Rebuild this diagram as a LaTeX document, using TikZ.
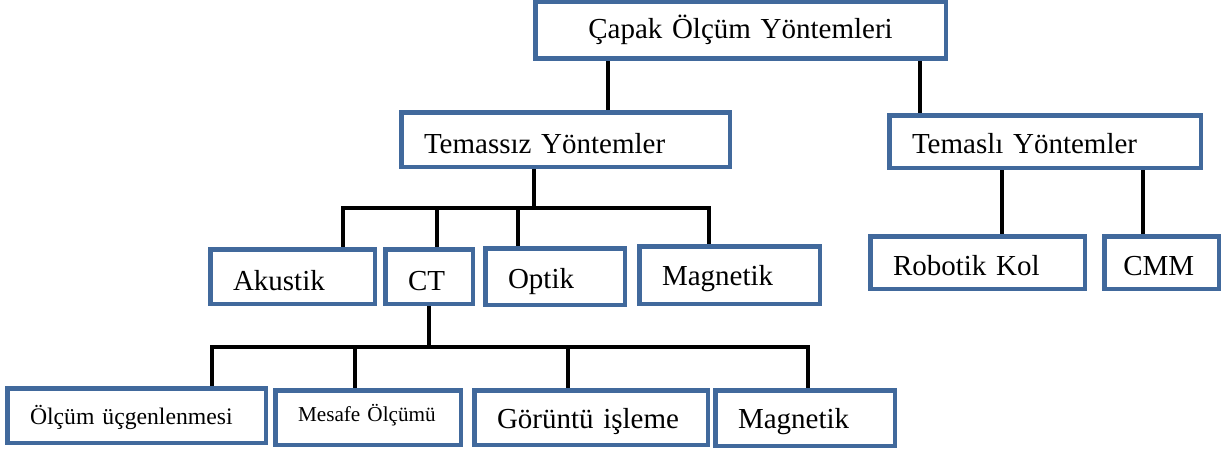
\documentclass[tikz,border=0pt]{standalone}
\usepackage{fontspec}
\setmainfont{Liberation Serif}
\usetikzlibrary{backgrounds}
\definecolor{boxblue}{HTML}{41699C}
\begin{document}
\begin{tikzpicture}[x=1pt,y=-1pt,
  box/.style={draw=boxblue, line width=4.5pt, fill=white, inner xsep=22.75pt,
    inner ysep=0pt, align=left, text depth=0pt, font=\fontsize{29}{34}\selectfont},
  conn/.style={draw=black, line width=3.8pt}]
\useasboundingbox (0,0) rectangle (1221,452);

% level 0
\node[box, minimum width=410.5pt, minimum height=56.5pt, text width=365pt, align=center, text height=17pt] (top) at (740.5,30.5) {Çapak Ölçüm Yöntemleri};
% level 1
\node[box, minimum width=328.5pt, minimum height=54.5pt, text width=283pt, text height=27pt] (tz) at (565.5,139.5) {Temassız Yöntemler};
\node[box, minimum width=311.5pt, minimum height=52.5pt, text width=266pt, text height=23pt] (tl) at (1045,141.5) {Temaslı Yöntemler};
% level 2
\node[box, minimum width=164.5pt, minimum height=54.5pt, text width=119pt, text height=27pt] (ak) at (292.5,276.5) {Akustik};
\node[box, minimum width=87.5pt, minimum height=54.5pt, text width=42pt, text height=27pt] (ct) at (429,276.5) {CT};
\node[box, minimum width=139.5pt, minimum height=56.5pt, text width=94pt, text height=23pt] (op) at (555,276.5) {Optik};
\node[box, minimum width=180.5pt, minimum height=57.5pt, text width=135pt, text height=20pt] (mg) at (729.5,275) {Magnetik};
\node[box, minimum width=214.5pt, minimum height=52.5pt, text width=169pt, text height=25pt] (rk) at (977.5,262.5) {Robotik Kol};
\node[box, minimum width=114.5pt, minimum height=52.5pt, text height=25pt, inner xsep=19pt, text width=76.5pt] (cmm) at (1161.5,262.5) {CMM};
% level 3
\node[box, minimum width=258.5pt, minimum height=54.5pt, text width=213pt, text height=17pt, font=\fontsize{23.7}{28}\selectfont] (ou) at (136.5,415.5) {Ölçüm üçgenlenmesi};
\node[box, minimum width=185.5pt, minimum height=54.5pt, text width=140pt, text height=7pt, font=\fontsize{21.2}{25}\selectfont] (mo) at (368,417.5) {Mesafe Ölçümü};
\node[box, minimum width=233.5pt, minimum height=54.5pt, text width=188pt, text height=21pt] (gi) at (591,417.5) {Görüntü işleme};
\node[box, minimum width=179.5pt, minimum height=55.5pt, text width=134pt, text height=20pt] (mb) at (805,418) {Magnetik};

% connector positions
\coordinate (xA) at (608,0);
\coordinate (xB) at (920,0);
\coordinate (bus1) at (534,208);
\coordinate (dA) at (343,0);
\coordinate (dC) at (437,0);
\coordinate (dO) at (518,0);
\coordinate (dM) at (709,0);
\coordinate (bus2) at (429,347);
\coordinate (eA) at (212,0);
\coordinate (eB) at (355,0);
\coordinate (eC) at (568,0);
\coordinate (eD) at (808,0);
\coordinate (fA) at (1002,0);
\coordinate (fB) at (1143,0);

\begin{pgfonlayer}{background}
\draw[conn] (xA |- top.south) -- (xA |- tz.north);
\draw[conn] (xB |- top.south) -- (xB |- tl.north);
\draw[conn] (tz.south -| bus1) -- (bus1);
\draw[conn] (dA |- ak.north) |- (bus1) -| (dM |- mg.north);
\draw[conn] (dC |- bus1) -- (dC |- ct.north);
\draw[conn] (dO |- bus1) -- (dO |- op.north);
\draw[conn] (ct.south -| bus2) -- (bus2);
\draw[conn] (eA |- ou.north) |- (bus2) -| (eD |- mb.north);
\draw[conn] (eB |- bus2) -- (eB |- mo.north);
\draw[conn] (eC |- bus2) -- (eC |- gi.north);
\draw[conn] (fA |- tl.south) -- (fA |- rk.north);
\draw[conn] (fB |- tl.south) -- (fB |- cmm.north);
\end{pgfonlayer}
\end{tikzpicture}
\end{document}
